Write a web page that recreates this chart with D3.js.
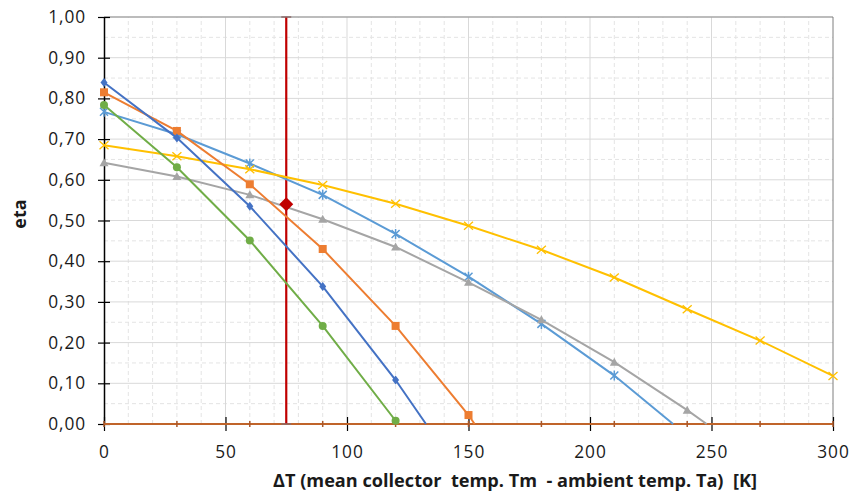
<!DOCTYPE html>
<html><head><meta charset="utf-8">
<script src="https://cdn.jsdelivr.net/npm/d3@7/dist/d3.min.js"></script>
<style>body{margin:0;background:#fff}svg{display:block}text{font-family:"Open Sans","Liberation Sans",sans-serif}</style>
</head><body><svg id="c" width="851" height="494"></svg>
<script>
// ---- data ----
const xSteps = [0,30,60,90,120,150,180,210,240,270,300];
const xTicks = [0,50,100,150,200,250,300];
const yTicks = [0,0.1,0.2,0.3,0.4,0.5,0.6,0.7,0.8,0.9,1.0];
const seriesDarkBlue = [0.839,0.703,0.535,0.338,0.108];
const seriesOrange = [0.815,0.720,0.589,0.430,0.241,0.022];
const seriesGreen = [0.784,0.631,0.451,0.241,0.008];
const seriesLightBlue = [0.767,0.712,0.640,0.563,0.467,0.362,0.246,0.119];
const seriesGray = [0.642,0.608,0.563,0.503,0.435,0.348,0.256,0.152,0.034];
const seriesYellow = [0.685,0.658,0.626,0.587,0.541,0.487,0.428,0.360,0.282,0.205,0.118];
const zeroCrossing = {darkBlue:132.5, orange:152.5, green:null, lightBlue:234.2, gray:248};
const refX = 75, refEta = 0.54;

const series = [
  {key:"lightBlue", vals:seriesLightBlue, color:"#5B9BD5", marker:"asterisk"},
  {key:"gray", vals:seriesGray, color:"#A5A5A5", marker:"triangle"},
  {key:"yellow", vals:seriesYellow, color:"#FFC000", marker:"cross"},
  {key:"green", vals:seriesGreen, color:"#70AD47", marker:"circle"},
  {key:"orange", vals:seriesOrange, color:"#ED7D31", marker:"square"},
  {key:"darkBlue", vals:seriesDarkBlue, color:"#4472C4", marker:"diamond"}
];

const svg = d3.select("#c");
const x = d3.scaleLinear().domain([0,300]).range([104,833]);
const y = d3.scaleLinear().domain([0,1]).range([424,17]);

// grid minor
const g = svg.append("g");
g.selectAll(".mx").data(d3.range(10,300,10).filter(v=>v%50)).enter().append("line")
 .attr("x1",d=>x(d)).attr("x2",d=>x(d)).attr("y1",y(0)).attr("y2",y(1))
 .attr("stroke","#E4E4E4").attr("stroke-dasharray","4,3");
g.selectAll(".my").data(d3.range(0.05,1,0.1)).enter().append("line")
 .attr("y1",d=>y(d)).attr("y2",d=>y(d)).attr("x1",x(0)).attr("x2",x(300))
 .attr("stroke","#E4E4E4").attr("stroke-dasharray","4,3");
// grid major
g.selectAll(".Mx").data(xTicks.slice(1,-1)).enter().append("line")
 .attr("x1",d=>x(d)).attr("x2",d=>x(d)).attr("y1",y(0)).attr("y2",y(1))
 .attr("stroke","#D9D9D9");
g.selectAll(".My").data(yTicks.slice(1,-1)).enter().append("line")
 .attr("y1",d=>y(d)).attr("y2",d=>y(d)).attr("x1",x(0)).attr("x2",x(300))
 .attr("stroke","#D9D9D9");
// frame
svg.append("line").attr("x1",x(0)).attr("x2",x(300)).attr("y1",y(1)).attr("y2",y(1)).attr("stroke","#A6A6A6").attr("stroke-width",1.5);
svg.append("line").attr("x1",x(300)).attr("x2",x(300)).attr("y1",y(1)).attr("y2",y(0)).attr("stroke","#7F7F7F").attr("stroke-width",1);

// y axis
const yAxis = d3.axisLeft(y).tickValues(yTicks).tickSize(0).tickPadding(18)
  .tickFormat(d=>d3.format(".2f")(d).replace(".",","));
const ya = svg.append("g").attr("transform",`translate(${x(0)},0)`).call(yAxis);
ya.select(".domain").attr("stroke","#000").attr("stroke-width",1.5);
ya.selectAll(".tick text").attr("font-size",17.3).attr("letter-spacing",0.9).attr("fill","#1a1a1a");
ya.selectAll(".tick").append("line").attr("x1",-6).attr("x2",6).attr("stroke","#000").attr("stroke-width",1.2);

// x axis
const xAxis = d3.axisBottom(x).tickValues(xTicks).tickSize(0).tickPadding(22);
const xa = svg.append("g").attr("transform",`translate(0,${y(0)})`).call(xAxis);
xa.select(".domain").remove();
xa.selectAll(".tick text").attr("font-size",17.3).attr("letter-spacing",0.9).attr("fill","#1a1a1a");
xa.selectAll(".tick").append("line").attr("y1",-7).attr("y2",7).attr("stroke","#000").attr("stroke-width",1.2);

// zero series (brown)
svg.append("line").attr("x1",x(0)).attr("x2",x(300)).attr("y1",y(0)).attr("y2",y(0)).attr("stroke","#C0642A").attr("stroke-width",2);
svg.selectAll(".zt").data(xSteps).enter().append("line")
 .attr("x1",d=>x(d)).attr("x2",d=>x(d)).attr("y1",y(0)-3).attr("y2",y(0)+3)
 .attr("stroke","#A9572A").attr("stroke-width",1.5);

// red reference line
svg.append("line").attr("x1",x(refX)).attr("x2",x(refX)).attr("y1",y(0)).attr("y2",y(1)).attr("stroke","#C00000").attr("stroke-width",2.2);
svg.append("line").attr("x1",x(refX)-5).attr("x2",x(refX)+5).attr("y1",y(1)).attr("y2",y(1)).attr("stroke","#8c6b6b").attr("stroke-width",1.5);
svg.append("line").attr("x1",x(refX)-5).attr("x2",x(refX)+5).attr("y1",y(0)).attr("y2",y(0)).attr("stroke","#8c6b6b").attr("stroke-width",1.5);

// series
const line = d3.line().x(d=>x(d[0])).y(d=>y(d[1]));
series.forEach(s=>{
  const pts = s.vals.map((v,i)=>[xSteps[i],v]);
  const lp = pts.slice();
  if (zeroCrossing[s.key]!=null) lp.push([zeroCrossing[s.key],0]);
  svg.append("path").attr("d",line(lp)).attr("fill","none").attr("stroke",s.color).attr("stroke-width",2);
  const mg = svg.append("g");
  pts.forEach(p=>{
    const cx=x(p[0]), cy=y(p[1]);
    if (s.marker==="diamond") mg.append("path").attr("d",`M${cx},${cy-4.5}L${cx+3.5},${cy}L${cx},${cy+4.5}L${cx-3.5},${cy}Z`).attr("fill",s.color);
    else if (s.marker==="square") mg.append("rect").attr("x",cx-4).attr("y",cy-4).attr("width",8).attr("height",8).attr("fill",s.color);
    else if (s.marker==="circle") mg.append("circle").attr("cx",cx).attr("cy",cy).attr("r",4).attr("fill",s.color);
    else if (s.marker==="triangle") mg.append("path").attr("d",`M${cx},${cy-4.5}L${cx+4.5},${cy+3.5}L${cx-4.5},${cy+3.5}Z`).attr("fill",s.color);
    else if (s.marker==="asterisk") mg.append("path").attr("d",`M${cx-4},${cy-4}L${cx+4},${cy+4}M${cx-4},${cy+4}L${cx+4},${cy-4}M${cx},${cy-5}L${cx},${cy+5}`).attr("stroke",s.color).attr("stroke-width",1.5);
    else if (s.marker==="cross") mg.append("path").attr("d",`M${cx-4.5},${cy-4}L${cx+4.5},${cy+4}M${cx-4.5},${cy+4}L${cx+4.5},${cy-4}`).attr("stroke",s.color).attr("stroke-width",1.3);
  });
});

// reference diamond
svg.append("path").attr("d",`M${x(refX)},${y(refEta)-7}L${x(refX)+7},${y(refEta)}L${x(refX)},${y(refEta)+7}L${x(refX)-7},${y(refEta)}Z`).attr("fill","#C00000");

// axis titles
svg.append("text").attr("transform",`translate(26,214) rotate(-90)`).attr("text-anchor","middle")
 .attr("font-size",18).attr("font-weight","bold").attr("fill","#1a1a1a").text("eta");
svg.append("text").attr("x",515).attr("y",487).attr("text-anchor","middle")
 .attr("font-size",18).attr("font-weight","bold").attr("fill","#1a1a1a").attr("xml:space","preserve")
 .attr("textLength",484).attr("lengthAdjust","spacingAndGlyphs")
 .text("ΔT (mean collector  temp. Tm  - ambient temp. Ta)  [K]");
</script></body></html>
